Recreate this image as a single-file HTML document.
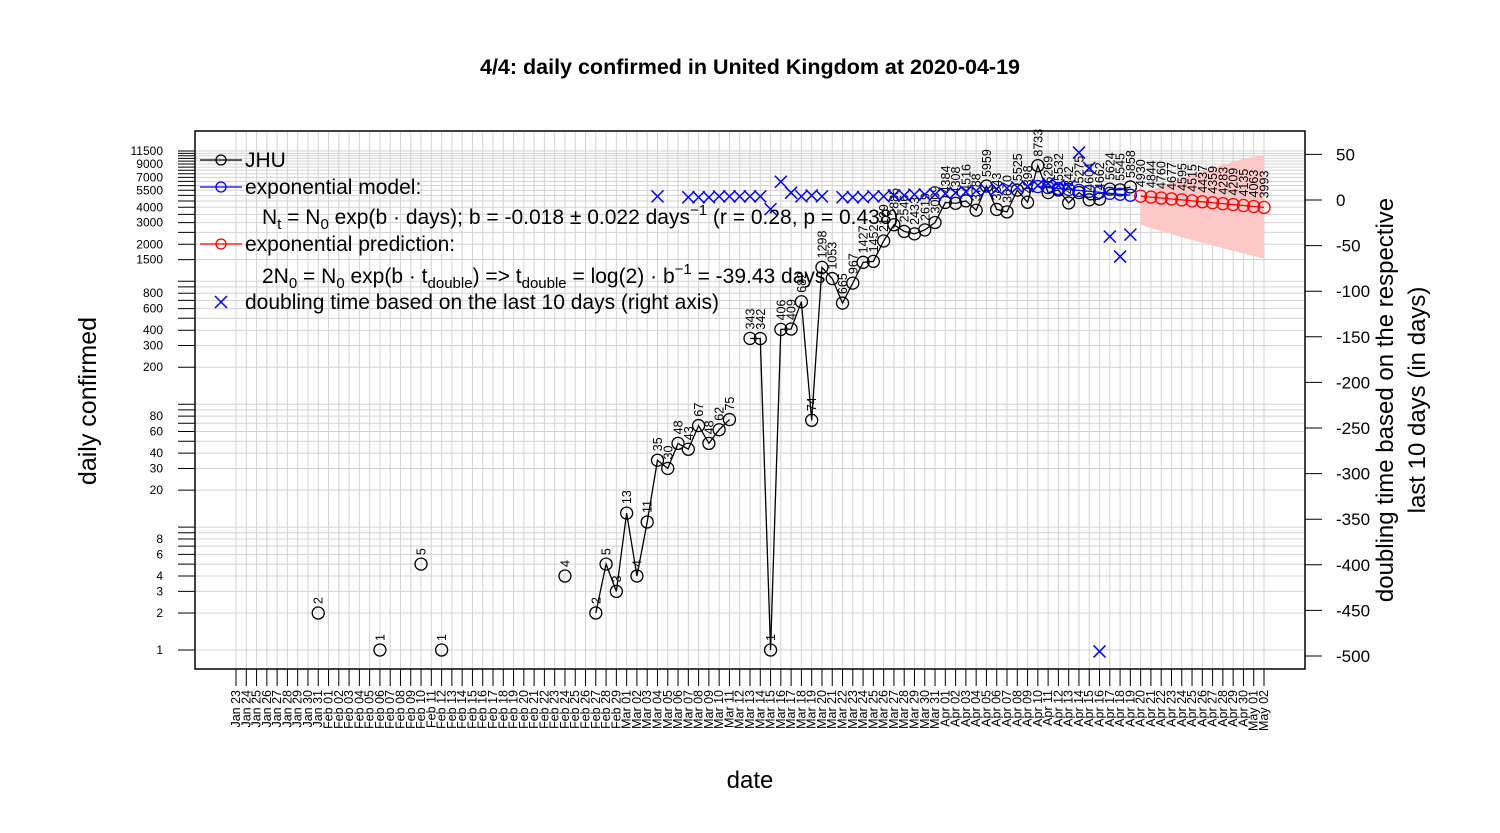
<!DOCTYPE html>
<html><head><meta charset="utf-8"><style>
body{margin:0;background:#fff}
svg{display:block;font-family:"Liberation Sans",sans-serif}
</style></head><body>
<svg id="chart" width="1500" height="833" viewBox="0 0 1500 833" xmlns="http://www.w3.org/2000/svg">
<rect width="1500" height="833" fill="#fff"/>
<g id="grid"></g>
<g id="band"></g>
<g id="marks"></g>
<rect x="195" y="131" width="1110" height="538" fill="none" stroke="#000" stroke-width="1.5"/>
<g id="axes"></g>
<text x="750" y="74" text-anchor="middle" font-size="21.5" font-weight="bold">4/4: daily confirmed in United Kingdom at 2020-04-19</text>
<text transform="translate(96,401) rotate(-90)" text-anchor="middle" font-size="25">daily confirmed</text>
<text x="750" y="788" text-anchor="middle" font-size="24">date</text>
<text transform="translate(1393,400) rotate(-90)" text-anchor="middle" font-size="24">doubling time based on the respective</text>
<text transform="translate(1425,400) rotate(-90)" text-anchor="middle" font-size="24">last 10 days (in days)</text>
<g id="legend" font-size="21">
<g><line x1="200" y1="160" x2="242" y2="160" stroke="#000" stroke-width="1.3"/><circle cx="221" cy="160" r="5" fill="none" stroke="#000" stroke-width="1.3"/><text x="245" y="167">JHU</text></g>
<g><line x1="200" y1="187" x2="242" y2="187" stroke="#00f" stroke-width="1.3"/><circle cx="221" cy="187" r="5" fill="none" stroke="#00f" stroke-width="1.3"/><text x="245" y="194">exponential model:</text></g>
<text x="262" y="224">N<tspan font-size="15" dy="5">t</tspan><tspan dy="-5"> = N</tspan><tspan font-size="15" dy="5">0</tspan><tspan dy="-5"> exp(b · days); b = -0.018 ± 0.022 days</tspan><tspan font-size="15" dy="-9">−1</tspan><tspan dy="9">  (r = 0.28, p = 0.438)</tspan></text>
<g><line x1="200" y1="244" x2="242" y2="244" stroke="#f00" stroke-width="1.3"/><circle cx="221" cy="244" r="5" fill="none" stroke="#f00" stroke-width="1.3"/><text x="245" y="251">exponential prediction:</text></g>
<text x="262" y="283">2N<tspan font-size="15" dy="5">0</tspan><tspan dy="-5"> = N</tspan><tspan font-size="15" dy="5">0</tspan><tspan dy="-5"> exp(b · t</tspan><tspan font-size="15" dy="5">double</tspan><tspan dy="-5">) =&gt; t</tspan><tspan font-size="15" dy="5">double</tspan><tspan dy="-5"> = log(2) · b</tspan><tspan font-size="15" dy="-9">−1</tspan><tspan dy="9"> = -39.43 days</tspan></text>
<g><path d="M215,296L227,308M215,308L227,296" stroke="#00f" stroke-width="1.5"/><text x="245" y="309">doubling time based on the last  10  days (right axis)</text></g>
</g>
</svg>
<script>
const startDate = "2020-01-23";
const nDays = 101;
const confirmedDays = [8,14,18,20,32,35,36,37,38,39,40,41,42,43,44,45,46,47,48,50,51,52,53,54,55,56,57,58,59,60,61,62,63,64,65,66,67,68,69,70,71,72,73,74,75,76,77,78,79,80,81,82,83,84,85,86,87];
const confirmed = [2,1,5,1,4,2,5,3,13,4,11,35,30,48,43,67,48,62,75,343,342,1,406,409,682,74,1298,1053,665,967,1427,1452,2129,2885,2546,2433,2619,3009,4384,4308,4516,3788,5959,3843,3670,5525,4398,8733,5269,5532,4342,5275,4604,4662,5624,5545,5858];
const modelDays = [78,79,80,81,82,83,84,85,86,87];
const model = [5900,5790,5690,5590,5490,5390,5300,5200,5110,5020];
const predDays = [88,89,90,91,92,93,94,95,96,97,98,99,100];
const pred = [4930,4844,4760,4677,4595,4515,4437,4359,4283,4209,4135,4063,3993];
const predLo = [2900,2720,2560,2420,2290,2170,2060,1960,1860,1770,1690,1610,1530];
const predHi = [5100,5500,5950,6400,6900,7400,7900,8400,8900,9400,9900,10300,10700];
const dblDays = [41,44,45,46,47,48,49,50,51,52,53,54,55,56,57,59,60,61,62,63,64,65,66,67,68,69,70,71,72,73,74,75,76,77,78,79,80,81,82,83,84,85,86,87];
const dbl = [4,3,3,3,4,4,4,4,4,-10,20,8,4,5,4,3,3,3,4,4,5,5,6,6,6,7,8,9,10,11,12,13,14,15,16,18,16,15,52,35,-495,-40,-62,-38];
const leftTickLabels = [1,2,3,4,6,8,20,30,40,60,80,200,300,400,600,800,1500,2000,3000,4000,5500,7000,9000,11500];
const rightTicks = [50,0,-50,-100,-150,-200,-250,-300,-350,-400,-450,-500];

const NS="http://www.w3.org/2000/svg";
const X0=236, DX=10.28;
const xS = i => X0 + DX*i;
const yL = v => 650 - Math.log10(v)*122.9;
const yR = v => 200 - v*0.912;
function mk(parent, tag, attrs){const e=document.createElementNS(NS,tag);for(const k in attrs)e.setAttribute(k,attrs[k]);parent.appendChild(e);return e;}
const grid=document.getElementById('grid'), marks=document.getElementById('marks'), axes=document.getElementById('axes'), band=document.getElementById('band');
const months=["Jan","Feb","Mar","Apr","May"];
const dateLabels=[];
{let d=new Date(startDate+"T00:00:00Z");for(let i=0;i<nDays;i++){dateLabels.push(months[d.getUTCMonth()]+" "+String(d.getUTCDate()).padStart(2,"0"));d.setUTCDate(d.getUTCDate()+1);}}
for(let i=0;i<nDays;i++){
  const x=xS(i);
  const g=mk(grid,'line',{x1:x,y1:132,x2:x,y2:668,stroke:'#d3d3d3','stroke-width':1});
  
  
  const t=mk(axes,'line',{x1:x,y1:669,x2:x,y2:686,stroke:'#000','stroke-width':1});
  
  
  const lb=mk(axes,'text',{transform:`translate(${x+4},690) rotate(-90)`,'text-anchor':'end','font-size':'12.5'});
  
  
  lb.textContent=dateLabels[i];
}
const leftTicks=[];
for(let k=0;k<3;k++){for(let c=1;c<10;c+=1)leftTicks.push(c*Math.pow(10,k));}
for(let v=1000;v<=11500;v+=500)leftTicks.push(v);
leftTicks.forEach(v=>{
  const y=yL(v);
  const g=mk(grid,'line',{x1:196,y1:y,x2:1304,y2:y,stroke:'#d3d3d3','stroke-width':1});
  
  
  const t=mk(axes,'line',{x1:178,y1:y,x2:195,y2:y,stroke:'#000','stroke-width':1});
  
  
});
leftTickLabels.forEach(v=>{
  const lb=mk(axes,'text',{x:163,y:yL(v)+4,'text-anchor':'end','font-size':'12'});
  
  
  lb.textContent=v;
});
rightTicks.forEach(v=>{
  const y=yR(v);
  const t=mk(axes,'line',{x1:1305,y1:y,x2:1322,y2:y,stroke:'#000','stroke-width':1});
  
  
  const lb=mk(axes,'text',{x:1336,y:y+6,'font-size':'17'});
  
  
  lb.textContent=v;
});
{let pts=predDays.map((d,i)=>xS(d)+','+yL(predHi[i]));
 pts=pts.concat(predDays.slice().reverse().map((d,j)=>{const i=predDays.length-1-j;return xS(d)+','+yL(predLo[i]);}));
 const p=mk(band,'polygon',{points:pts.join(' '),fill:'#ffc8c8'});
 
 }
{let seg=[];const segs=[];
 confirmedDays.forEach((d,i)=>{if(seg.length&&d!==confirmedDays[i-1]+1){segs.push(seg);seg=[];}seg.push([xS(d),yL(confirmed[i])]);});
 segs.push(seg);
 segs.forEach(s=>{if(s.length>1){const l=mk(marks,'polyline',{points:s.map(p=>p.join(',')).join(' '),fill:'none',stroke:'#000','stroke-width':1.3});
  
  }});}
confirmedDays.forEach((d,i)=>{
  const x=xS(d),y=yL(confirmed[i]);
  const c=mk(marks,'circle',{cx:x,cy:y,r:6,fill:'none',stroke:'#000','stroke-width':1.3});
  
  
  const t=mk(marks,'text',{transform:`translate(${x+4.5},${y-9}) rotate(-90)`,'font-size':'12.5'});
  
  
  t.textContent=confirmed[i];
});
{const l=mk(marks,'polyline',{points:modelDays.map((d,i)=>xS(d)+','+yL(model[i])).join(' '),fill:'none',stroke:'#00f','stroke-width':1.3});
 
 }
modelDays.forEach((d,i)=>{
  const c=mk(marks,'circle',{cx:xS(d),cy:yL(model[i]),r:6,fill:'none',stroke:'#00f','stroke-width':1.3});
  
  
});
{const l=mk(marks,'polyline',{points:predDays.map((d,i)=>xS(d)+','+yL(pred[i])).join(' '),fill:'none',stroke:'#f00','stroke-width':1.3});
 
 }
predDays.forEach((d,i)=>{
  const x=xS(d),y=yL(pred[i]);
  const c=mk(marks,'circle',{cx:x,cy:y,r:6,fill:'none',stroke:'#f00','stroke-width':1.3});
  
  
  const t=mk(marks,'text',{transform:`translate(${x+4.5},${y-9}) rotate(-90)`,'font-size':'12.5'});
  
  
  t.textContent=pred[i];
});
dblDays.forEach((d,i)=>{
  const x=xS(d),y=yR(dbl[i]);
  const p=mk(marks,'path',{d:`M${x-6},${y-6}L${x+6},${y+6}M${x-6},${y+6}L${x+6},${y-6}`,stroke:'#00f','stroke-width':1.5,fill:'none'});
  
  
});
</script>
</body></html>
